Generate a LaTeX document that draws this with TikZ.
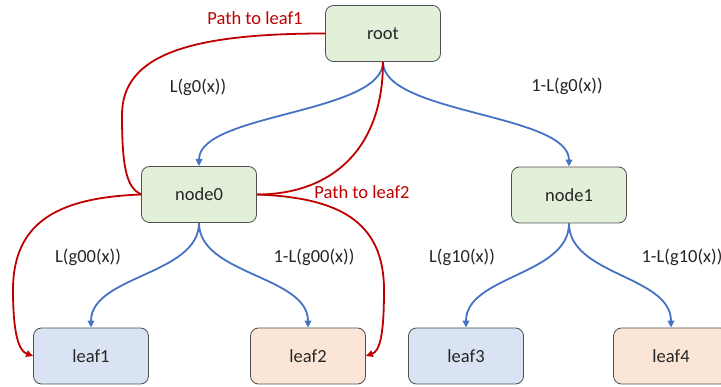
\documentclass[tikz,border=0pt]{standalone}
\usepackage{fontspec}
\setmainfont{Carlito}
\usetikzlibrary{arrows.meta}

\definecolor{boxgreen}{HTML}{E2F0D9}
\definecolor{boxblue}{HTML}{DAE3F3}
\definecolor{boxorange}{HTML}{FBE5D6}
\definecolor{boxline}{HTML}{505050}
\definecolor{flowblue}{HTML}{4472C4}
\definecolor{pathred}{HTML}{C00000}

\tikzset{
  treebox/.style={draw=boxline, line width=0.8pt, rounded corners=8pt,
    minimum width=115pt, minimum height=56pt, inner sep=0pt,
    font=\fontsize{18.5}{22}\selectfont, text=black!85},
  inner/.style={treebox, fill=boxgreen},
  leftleaf/.style={treebox, fill=boxblue},
  rightleaf/.style={treebox, fill=boxorange},
  split/.style={draw=flowblue, line width=1.8pt,
    -{Triangle[length=7pt,width=6.5pt]}},
  route/.style={draw=pathred, line width=1.8pt},
  routeend/.style={route, -{Triangle[length=7pt,width=6.5pt]}},
  prob/.style={font=\fontsize{18.5}{22}\selectfont, text=black!85},
  routelabel/.style={font=\fontsize{18.5}{22}\selectfont, text=pathred},
}

\begin{document}
\begin{tikzpicture}[x=1pt,y=-1pt]
  \useasboundingbox (0,0) rectangle (721,387);
  \clip (0,0) rectangle (721,387);

  % tree nodes
  \node[inner]     (root)  at (383,33.5)  {root};
  \node[inner]     (node0) at (199,194.5) {node0};
  \node[inner]     (node1) at (569,195)   {node1};
  \node[leftleaf]  (leaf1) at (91,356)    {leaf1};
  \node[rightleaf] (leaf2) at (308,356)   {leaf2};
  \node[leftleaf]  (leaf3) at (466,356)   {leaf3};
  \node[rightleaf] (leaf4) at (671,356)   {leaf4};

  % branch labels
  \node[prob] (l0)   at (198,87)  {L(g0(x))};
  \node[prob] (r0)   at (567,86)  {1-L(g0(x))};
  \node[prob] (l00)  at (88,257)  {L(g00(x))};
  \node[prob] (r00)  at (314,257) {1-L(g00(x))};
  \node[prob] (l10)  at (462,257) {L(g10(x))};
  \node[prob] (r10)  at (682,257) {1-L(g10(x))};
  \node[routelabel] (p1) at (255,18)  {Path to leaf1};
  \node[routelabel] (p2) at (362,192) {Path to leaf2};

  % split edges
  \draw[split] (root.south)  .. controls +(0,52) and +(0,-53) .. (node0.north);
  \draw[split] (root.south)  .. controls +(0,52) and +(0,-53) .. (node1.north);
  \draw[split] (node0.south) .. controls +(0,52) and +(0,-52) .. (leaf1.north);
  \draw[split] (node0.south) .. controls +(0,52) and +(0,-52) .. (leaf2.north);
  \draw[split] (node1.south) .. controls +(0,52) and +(0,-52) .. (leaf3.north);
  \draw[split] (node1.south) .. controls +(0,52) and +(0,-52) .. (leaf4.north);

  % route to leaf1
  \draw[route] (root.west) .. controls +(-136,0) and +(0,-60) .. (122,115)
                           .. controls +(0,55) and +(-14,-7) .. (node0.west);
  \draw[routeend] (node0.west) .. controls +(-80,3) and +(0,-70) .. (13,290)
                               .. controls +(0,45) and +(-14,-5) .. (leaf1.west);

  % route to leaf2
  \draw[route] (root.south) .. controls +(0,89) and +(73,0) .. (node0.east);
  \draw[routeend] (node0.east) .. controls +(80,3) and +(0,-70) .. (384,290)
                               .. controls +(0,45) and +(14,-5) .. (leaf2.east);
\end{tikzpicture}
\end{document}
